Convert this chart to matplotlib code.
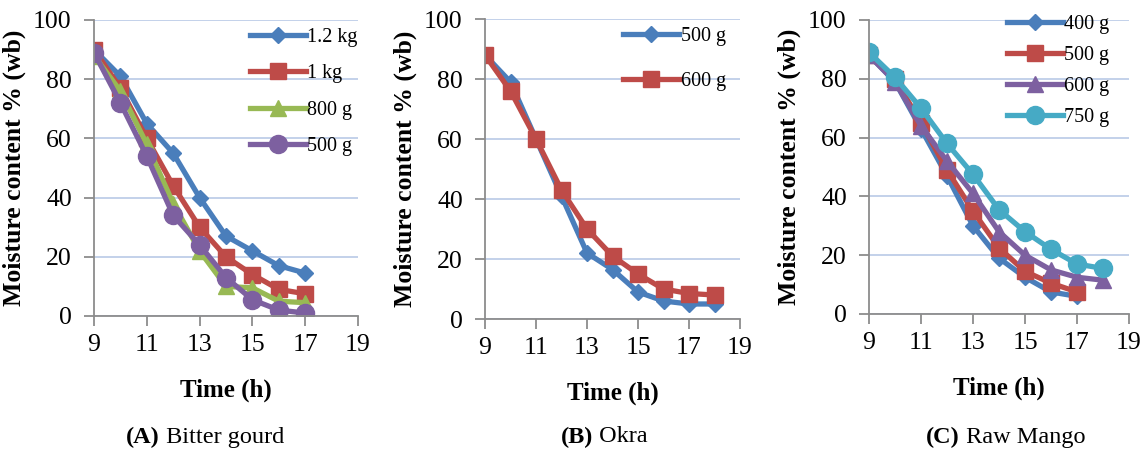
import matplotlib
matplotlib.use("Agg")
import matplotlib.pyplot as plt

plt.rcParams['font.family'] = ['Liberation Serif', 'DejaVu Serif']

# Bitter gourd
bg_time = [9, 10, 11, 12, 13, 14, 15, 16, 17]
bg_12kg = [90, 81, 65, 55, 40, 27, 22, 17, 14.5]
bg_1kg = [90, 77, 60, 44, 30, 20, 14, 9, 7.5]
bg_800g = [88, 76, 58, 38, 22, 10, 9.5, 5, 4.5]
bg_500g = [89, 72, 54, 34, 24, 13, 5.5, 2, 1]

# Okra
ok_time = [9, 10, 11, 12, 13, 14, 15, 16, 17, 18]
ok_500g = [88, 79, 60, 41, 22, 16.5, 9, 6, 5, 5]
ok_600g = [88, 76, 60, 43, 30, 21, 15, 10, 8.5, 8]

# Raw mango
rm_time_short = [9, 10, 11, 12, 13, 14, 15, 16, 17]
rm_time_long = [9, 10, 11, 12, 13, 14, 15, 16, 17, 18]
rm_400g = [88, 79, 63, 47, 30, 19, 12.5, 7.5, 6]
rm_500g = [88, 80, 65, 49, 35, 22.5, 14.5, 10.5, 7.5]
rm_600g = [88, 79, 64, 52, 41, 28, 20, 15, 12.5, 11.5]
rm_750g = [89, 80.5, 70, 58, 47.5, 35.5, 28, 22, 17, 15.5]

BLUE = '#4a7ebb'
RED = '#be4b48'
GREEN = '#98b954'
PURPLE = '#7d60a0'
CYAN = '#46aac5'

fig = plt.figure(figsize=(11.45, 4.55), dpi=100)
W, H = 1145, 455


def make_axes(left, right, top, bottom):
    return fig.add_axes([left / W, 1 - bottom / H, (right - left) / W, (bottom - top) / H])


def style_axes(ax, caption_letter, caption_text, caption_x):
    ax.set_xlim(9, 19)
    ax.set_ylim(0, 100)
    ax.set_xticks([9, 11, 13, 15, 17, 19])
    ax.set_yticks([0, 20, 40, 60, 80, 100])
    ax.grid(axis='y', color='#b9c9e6', linewidth=1.2)
    ax.set_axisbelow(True)
    for s in ['top', 'right']:
        ax.spines[s].set_visible(False)
    for s in ['left', 'bottom']:
        ax.spines[s].set_color('#8c8c8c')
        ax.spines[s].set_linewidth(1.3)
    ax.tick_params(axis='both', colors='#8c8c8c', length=7, width=1.3,
                   labelsize=18.5, labelcolor='black')
    ax.tick_params(axis='y', pad=9)
    ax.tick_params(axis='x', pad=6)
    ax.set_xlabel('Time (h)', fontsize=18, fontweight='bold', labelpad=16)
    ax.set_ylabel('Moisture content % (wb)', fontsize=18.5, fontweight='bold', labelpad=5)
    fig.text(caption_x / W, 1 - 437 / H, caption_letter, fontsize=17.5,
             fontweight='bold', ha='right', va='center')
    fig.text(caption_x / W, 1 - 437 / H, ' ' + caption_text, fontsize=17.5,
             ha='left', va='center')


def legend(ax, x, y, spacing):
    ax.legend(loc='upper left', bbox_to_anchor=(x, y), frameon=False,
              fontsize=14.5, handlelength=2.8, handletextpad=0.05,
              labelspacing=spacing, borderaxespad=0)


lw = 3.8

# Panel A
ax1 = make_axes(94, 358, 20, 316)
ax1.plot(bg_time, bg_12kg, color=BLUE, lw=lw, marker='D', ms=8, label='1.2 kg')
ax1.plot(bg_time, bg_1kg, color=RED, lw=lw, marker='s', ms=11, label='1 kg')
ax1.plot(bg_time, bg_800g, color=GREEN, lw=lw, marker='^', ms=11, label='800 g')
ax1.plot(bg_time, bg_500g, color=PURPLE, lw=lw, marker='o', ms=13, label='500 g')
style_axes(ax1, '(A)', 'Bitter gourd', 160)
legend(ax1, 0.56, 1.0, 0.85)

# Panel B
ax2 = make_axes(485, 740, 19, 319)
ax2.plot(ok_time, ok_500g, color=BLUE, lw=lw, marker='D', ms=8, label='500 g')
ax2.plot(ok_time, ok_600g, color=RED, lw=lw, marker='s', ms=11, label='600 g')
style_axes(ax2, '(B)', 'Okra', 593)
legend(ax2, 0.51, 1.0, 1.3)

# Panel C
ax3 = make_axes(869, 1129, 20, 314)
ax3.plot(rm_time_short, rm_400g, color=BLUE, lw=lw, marker='D', ms=8, label='400 g')
ax3.plot(rm_time_short, rm_500g, color=RED, lw=lw, marker='s', ms=11, label='500 g')
ax3.plot(rm_time_long, rm_600g, color=PURPLE, lw=lw, marker='^', ms=11, label='600 g')
ax3.plot(rm_time_long, rm_750g, color=CYAN, lw=lw, marker='o', ms=13, label='750 g')
style_axes(ax3, '(C)', 'Raw Mango', 960)
legend(ax3, 0.5, 1.045, 0.6)

fig.savefig('out.png', dpi=100)
